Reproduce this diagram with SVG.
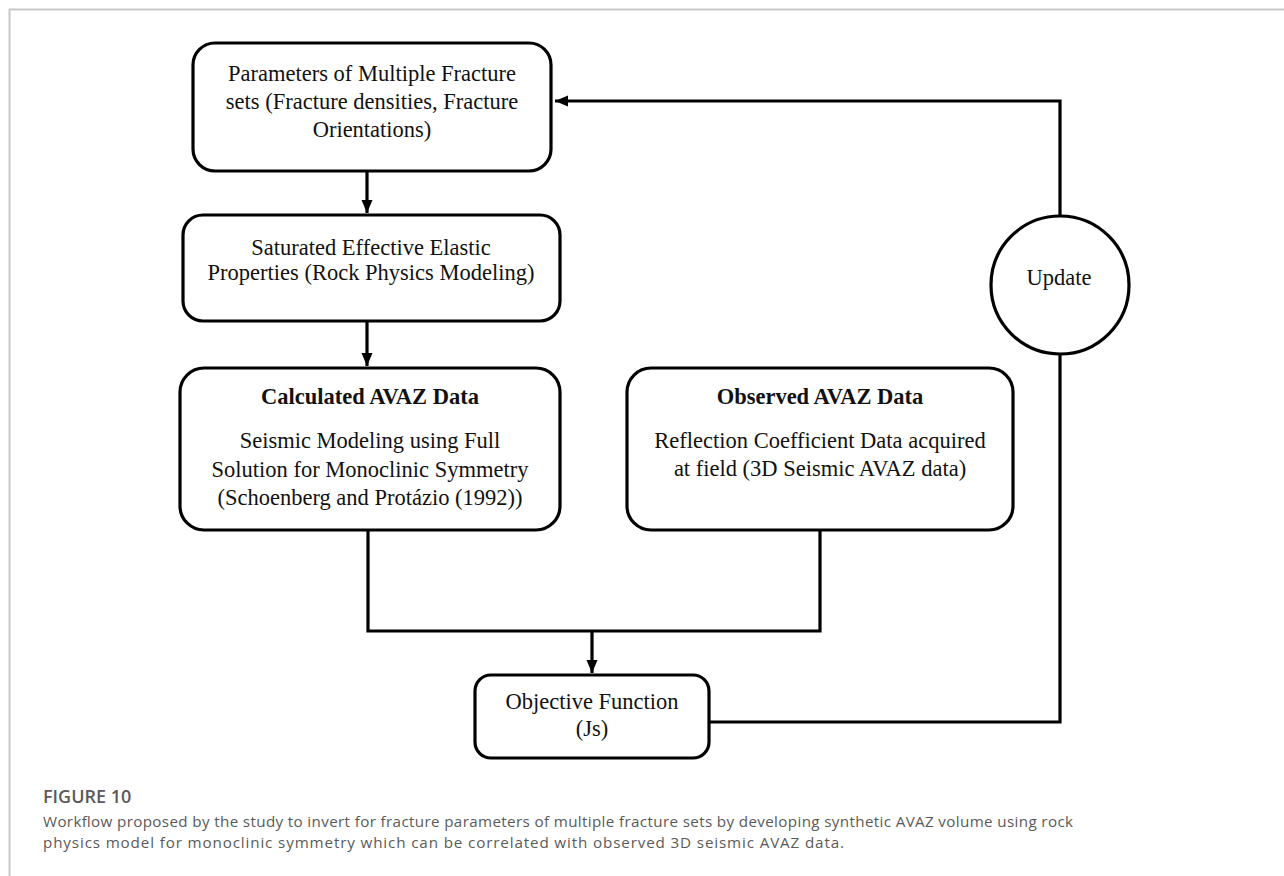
<svg xmlns="http://www.w3.org/2000/svg" width="1284" height="876" viewBox="0 0 1284 876">
<style>
.box{fill:#fff;stroke:#000;stroke-width:3.2}
.t{font-family:"Liberation Serif","Times New Roman",serif;font-size:22.5px;fill:#111;text-anchor:middle}
.b{font-weight:bold}
.c{fill:none;stroke:#000;stroke-width:3.2}
.frame{stroke:#c8c8c8;stroke-width:2;fill:none}
.cap{font-family:"Open Sans","Noto Sans",sans-serif;fill:#5a5a5a}
</style>
<defs>
<marker id="ah" markerUnits="userSpaceOnUse" markerWidth="14" markerHeight="12" refX="13" refY="6" orient="auto">
<path d="M0,0.5 L13,6 L0,11.5 Z" fill="#000"/>
</marker>
</defs>
<rect width="1284" height="876" fill="#fff"/>
<path class="frame" d="M9.5,876 V9.5 H1284"/>

<g id="connectors">
<path class="c" d="M367,171 V213" marker-end="url(#ah)"/>
<path class="c" d="M367,321 V366" marker-end="url(#ah)"/>
<path class="c" d="M368,530 V631 H820 V530"/>
<path class="c" d="M592,631 V673" marker-end="url(#ah)"/>
<path class="c" d="M709,722 H1060 V355"/>
<path class="c" d="M1060,215 V101 H555" marker-end="url(#ah)"/>
</g>

<g id="params">
<rect class="box" x="193" y="43" width="358" height="128" rx="22"/>
<text class="t" x="372" y="81">Parameters of Multiple Fracture</text>
<text class="t" x="372" y="109">sets (Fracture densities, Fracture</text>
<text class="t" x="372" y="137">Orientations)</text>
</g>

<g id="saturated">
<rect class="box" x="183" y="215" width="377" height="106" rx="20"/>
<text class="t" x="371" y="255">Saturated Effective Elastic</text>
<text class="t" x="371" y="280">Properties (Rock Physics Modeling)</text>
</g>

<g id="calculated">
<rect class="box" x="180" y="368" width="380" height="162" rx="24"/>
<text class="t b" x="370" y="404">Calculated AVAZ Data</text>
<text class="t" x="370" y="448">Seismic Modeling using Full</text>
<text class="t" x="370" y="477">Solution for Monoclinic Symmetry</text>
<text class="t" x="370" y="505">(Schoenberg and Protázio (1992))</text>
</g>

<g id="observed">
<rect class="box" x="627" y="368" width="386" height="162" rx="24"/>
<text class="t b" x="820" y="404">Observed AVAZ Data</text>
<text class="t" x="820" y="448">Reflection Coefficient Data acquired</text>
<text class="t" x="820" y="476">at field (3D Seismic AVAZ data)</text>
</g>

<g id="objective">
<rect class="box" x="475" y="675" width="234" height="83" rx="16"/>
<text class="t" x="592" y="709">Objective Function</text>
<text class="t" x="592" y="736">(Js)</text>
</g>

<g id="update">
<circle class="box" cx="1060" cy="285" r="69"/>
<text class="t" x="1059" y="285">Update</text>
</g>

<g id="caption">
<text class="cap" x="43" y="803" font-size="18" font-weight="600">FIGURE 10</text>
<text class="cap" x="43" y="827" font-size="15.2" textLength="1030" lengthAdjust="spacing">Workflow proposed by the study to invert for fracture parameters of multiple fracture sets by developing synthetic AVAZ volume using rock</text>
<text class="cap" x="43" y="848" font-size="15.2" textLength="801" lengthAdjust="spacing">physics model for monoclinic symmetry which can be correlated with observed 3D seismic AVAZ data.</text>
</g>
</svg>
